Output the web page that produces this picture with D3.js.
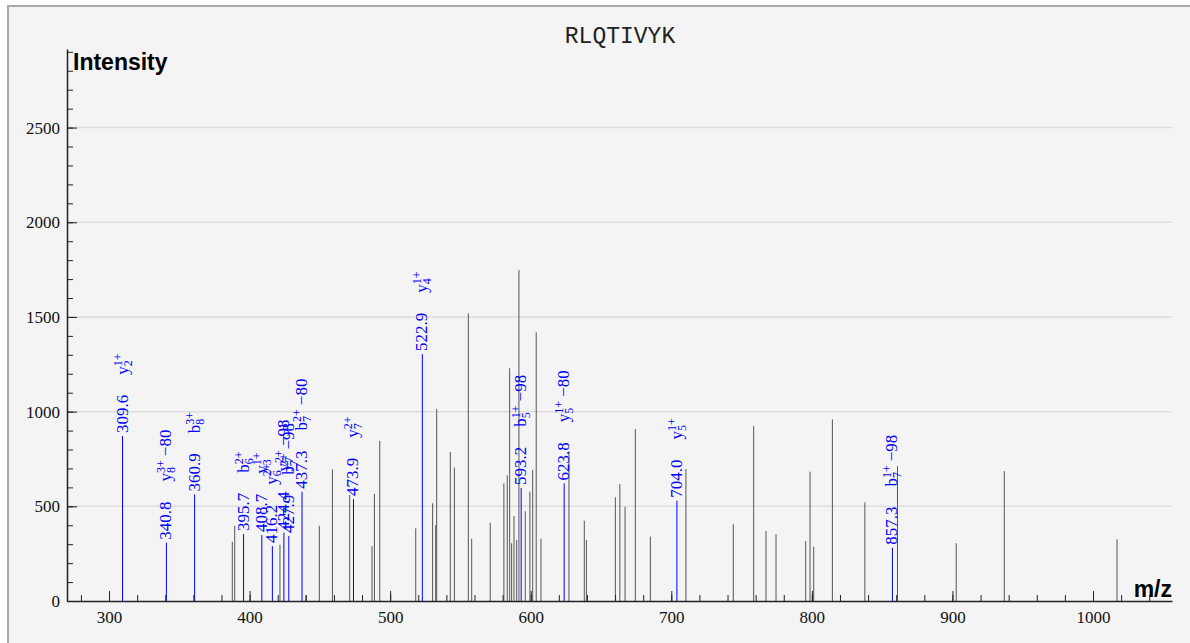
<!DOCTYPE html>
<html><head><meta charset="utf-8">
<script src="https://cdn.jsdelivr.net/npm/d3@7/dist/d3.min.js"></script>
<style>body{margin:0;background:#fff}</style></head>
<body><svg id="chart" width="1190" height="643"></svg>
<script>
const title = "RLQTIVYK";
const yLabel = "Intensity";
const xLabel = "m/z";

// unannotated peaks
const peakMz = [387.7, 389.4, 421.6, 440.0, 449.6, 458.9, 471.2, 487.1, 488.8, 492.6, 518.2, 530.2, 532.4, 533.1,
  542.8, 545.7, 555.6, 558.0, 571.2, 580.9, 583.3, 585.0, 586.4, 588.1, 590.0, 591.6, 596.1, 599.4, 601.4, 603.9,
  607.3, 627.2, 638.1, 639.6, 660.2, 663.4, 667.1, 674.4, 685.1, 710.4, 744.1, 758.6, 767.4, 774.5, 795.6, 798.7,
  801.3, 814.6, 837.7, 860.9, 902.7, 936.9, 1017.1];
const peakInt = [313, 397, 297, 30, 397, 695, 560, 290, 565, 845, 384, 516, 401, 1014,
  787, 704, 1519, 329, 413, 621, 664, 1229, 305, 449, 322, 1748, 474, 577, 692, 1419,
  329, 790, 424, 322, 548, 617, 497, 908, 340, 697, 405, 924, 370, 354, 317, 683,
  287, 959, 521, 712, 305, 686, 326];

// annotated (matched) peaks
const ionMz = [309.6, 340.8, 360.9, 395.7, 408.7, 416.2, 424.4, 427.9, 437.3, 473.9, 522.9, 593.2, 623.8, 704.0, 857.3];
const ionInt = [871, 308, 563, 354, 348, 290, 361, 343, 577, 538, 1304, 597, 621, 530, 281];
const ionType = ["y", "y", "b", "b", "y", "y", "y", "b", "b", "y", "y", "b", "y", "y", "b"];
const ionIndex = ["2", "8", "8", "6", "3", "6", "7", "7", "7", "7", "4", "5", "5", "5", "7"];
const ionCharge = ["1+", "3+", "3+", "2+", "1+", "2+", "2+", "2+", "2+", "2+", "1+", "1+", "1+", "1+", "1+"];
const ionLoss = ["", "80", "", "", "", "", "98", "98", "80", "", "", "98", "80", "", "98"];

const xTickValues = [300, 400, 500, 600, 700, 800, 900, 1000];
const yTickValues = [0, 500, 1000, 1500, 2000, 2500];
const xMinorTicks = d3.range(280, 1041, 20);
const yMinorTicks = d3.range(0, 2901, 100);

const svg = d3.select("#chart");
const serif = "'Liberation Serif', 'Times New Roman', serif";

svg.append("rect").attr("x", 8).attr("y", 6).attr("width", 1200).attr("height", 660)
  .attr("fill", "#f4f4f4").attr("stroke", "#aaaaaa").attr("stroke-width", 2);

const x = d3.scaleLinear().domain([270.1, 1056.2]).range([67, 1172]);
const y = d3.scaleLinear().domain([0, 2915]).range([601, 49]);

// grid
svg.append("g").selectAll("line").data(yTickValues.filter(d => d > 0)).join("line")
  .attr("x1", 67).attr("x2", 1172).attr("y1", d => y(d)).attr("y2", d => y(d))
  .attr("stroke", "#dddddd").attr("stroke-width", 1.5);

// title
svg.append("text").attr("x", 620).attr("y", 43).attr("text-anchor", "middle")
  .style("font", "23px 'Liberation Mono', 'Courier New', monospace").attr("fill", "#222").text(title);

// peaks
svg.append("g").selectAll("line").data(peakMz).join("line")
  .attr("x1", d => x(d)).attr("x2", d => x(d))
  .attr("y1", y(0)).attr("y2", (d, i) => y(peakInt[i]))
  .attr("stroke", "#555").attr("stroke-width", 1);

svg.append("g").selectAll("line").data(ionMz).join("line")
  .attr("x1", d => x(d)).attr("x2", d => x(d))
  .attr("y1", y(0)).attr("y2", (d, i) => y(ionInt[i]))
  .attr("stroke", "#0000ff").attr("stroke-width", 1);

// axes
function styleAxis(g) {
  g.selectAll("text").style("font", "17px " + serif).attr("fill", "#111");
  g.selectAll("line").attr("stroke", "#222");
  g.select(".domain").attr("stroke", "#222").attr("stroke-width", 1.5);
}
const xMinor = svg.append("g").attr("transform", `translate(0,${y(0)})`)
  .call(d3.axisBottom(x).tickValues(xMinorTicks).tickSize(-6).tickSizeOuter(0).tickFormat(""));
xMinor.select(".domain").remove();
xMinor.selectAll("line").attr("stroke", "#222");
const yMinor = svg.append("g").attr("transform", "translate(67,0)")
  .call(d3.axisLeft(y).tickValues(yMinorTicks).tickSize(-6).tickSizeOuter(0).tickFormat(""));
yMinor.select(".domain").remove();
yMinor.selectAll("line").attr("stroke", "#222");

svg.append("g").attr("transform", `translate(0,${y(0)})`)
  .call(d3.axisBottom(x).tickValues(xTickValues).tickFormat(d3.format("d")).tickSize(-10).tickSizeOuter(0).tickPadding(10))
  .call(styleAxis);
svg.append("g").attr("transform", "translate(67,0)")
  .call(d3.axisLeft(y).tickValues(yTickValues).tickFormat(d3.format("d")).tickSize(-10).tickSizeOuter(0).tickPadding(7))
  .call(styleAxis);

// axis labels
svg.append("text").attr("x", 73).attr("y", 70)
  .style("font", "bold 23px 'Liberation Sans', Arial, sans-serif").attr("fill", "#000").text(yLabel);
svg.append("text").attr("x", 1172).attr("y", 597).attr("text-anchor", "end")
  .style("font", "bold 23px 'Liberation Sans', Arial, sans-serif").attr("fill", "#000").text(xLabel);

// annotations
const ann = svg.append("g");
ionMz.forEach((mz, i) => {
  const t = ann.append("text")
    .attr("transform", `translate(${x(mz) + 5},${y(ionInt[i]) - 3}) rotate(-90)`)
    .attr("fill", "#0000ff").style("font", "17px " + serif);
  t.append("tspan").text(mz.toFixed(1));
  t.append("tspan").attr("dx", 20).text(ionType[i]);
  const sub = t.append("tspan").attr("dy", 4).style("font-size", "12px").text(ionIndex[i]);
  const subW = sub.node().getComputedTextLength();
  t.append("tspan").attr("dx", -subW).attr("dy", -10).style("font-size", "12px").text(ionCharge[i]);
  if (ionLoss[i]) t.append("tspan").attr("dx", 4).attr("dy", 6).text("\u2212" + ionLoss[i]);
});
</script></body></html>
